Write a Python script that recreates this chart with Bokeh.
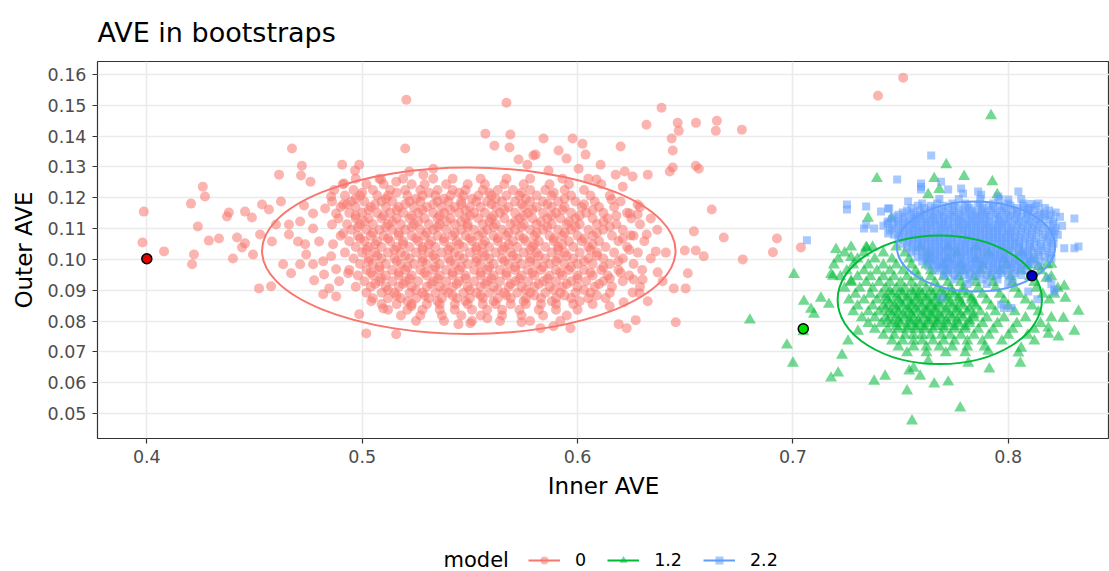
from bokeh.plotting import figure
from bokeh.layouts import column
from bokeh.models import Range1d, Legend, LegendItem, NumeralTickFormatter, Label
from bokeh.embed import file_html
from bokeh.resources import INLINE

FONT = "DejaVu Sans"

# ---------------- data ----------------
title_text = "AVE in bootstraps"
x_label = "Inner AVE"
y_label = "Outer AVE"
legend_title = "model"
models = ["0", "1.2", "2.2"]
colors = ["#F8766D", "#00BA38", "#619CFF"]
markers = ["circle", "triangle", "square"]
x_ticks = [0.4, 0.5, 0.6, 0.7, 0.8]
y_ticks = [0.05, 0.06, 0.07, 0.08, 0.09, 0.10, 0.11, 0.12, 0.13, 0.14, 0.15, 0.16]

# bootstrap points, model 0 (scattered points as (x, y))
red_extra = [
    (0.5205, 0.1518), (0.5200, 0.1360), (0.4674, 0.1360), (0.4720, 0.1304), (0.4614, 0.1275),
    (0.4716, 0.1272), (0.4760, 0.1252), (0.4907, 0.1307), (0.4986, 0.1307), (0.4967, 0.1288),
    (0.4260, 0.1236), (0.4270, 0.1204), (0.4205, 0.1181), (0.3986, 0.1155), (0.3980, 0.1055),
    (0.4080, 0.1026), (0.4237, 0.1107), (0.4219, 0.1016), (0.4210, 0.0984), (0.4288, 0.1061),
    (0.4335, 0.1068), (0.4381, 0.1152), (0.4372, 0.1139), (0.4456, 0.1155), (0.4488, 0.1136),
    (0.4535, 0.1178), (0.4419, 0.1071), (0.4456, 0.1052), (0.4442, 0.1039), (0.4493, 0.1016),
    (0.4400, 0.1003), (0.4521, 0.0906), (0.4577, 0.0913), (0.4567, 0.1162), (0.4623, 0.1188),
    (0.4600, 0.1113), (0.4526, 0.1081), (0.4660, 0.1113), (0.4581, 0.1058), (0.4633, 0.0984),
    (0.4670, 0.0955), (0.4712, 0.0984), (0.4730, 0.1175), (0.4772, 0.1149), (0.4712, 0.1123),
    (0.4772, 0.1100), (0.4660, 0.1081), (0.4702, 0.1058), (0.4735, 0.1049), (0.4800, 0.1058),
    (0.4740, 0.1016), (0.4772, 0.0984), (0.4819, 0.0994), (0.4777, 0.0932), (0.4823, 0.0951),
    (0.4847, 0.0906), (0.4879, 0.0880), (0.4819, 0.0887), (0.4856, 0.1204), (0.4916, 0.1246),
    (0.4828, 0.1165), (0.4879, 0.1149), (0.4912, 0.1178), (0.4860, 0.1113), (0.4912, 0.1084),
    (0.4865, 0.1049), (0.4856, 0.1010), (0.4879, 0.0968), (0.4893, 0.0929), (0.4935, 0.0955),
    (0.5042, 0.0864), (0.4986, 0.0822), (0.5019, 0.0760), (0.5158, 0.0757), (0.5098, 0.0841),
    (0.5228, 0.0848), (0.5088, 0.1259), (0.5158, 0.1252), (0.5219, 0.1285), (0.5284, 0.1275),
    (0.5330, 0.1294), (0.5447, 0.0790), (0.5502, 0.0793), (0.5581, 0.0809),
    (0.5670, 0.1508), (0.6390, 0.1492), (0.6320, 0.1437), (0.6465, 0.1443), (0.6470, 0.1417),
    (0.6550, 0.1443), (0.6647, 0.1450), (0.6642, 0.1417), (0.6763, 0.1421), (0.6437, 0.1392),
    (0.6442, 0.1353), (0.6549, 0.1304), (0.6563, 0.1294), (0.6442, 0.1298), (0.6428, 0.1285),
    (0.6326, 0.1275), (0.6200, 0.1366), (0.6107, 0.1307), (0.6177, 0.1275), (0.6219, 0.1285),
    (0.6256, 0.1269), (0.6210, 0.1236), (0.6623, 0.1162), (0.6679, 0.1071), (0.6926, 0.1068),
    (0.6907, 0.1023), (0.6767, 0.1000), (0.6540, 0.1091), (0.6498, 0.1029), (0.6549, 0.1029),
    (0.6586, 0.1010), (0.6512, 0.0955), (0.6447, 0.0906), (0.6502, 0.0906), (0.6456, 0.0796),
    (0.6363, 0.1026), (0.6321, 0.1081), (0.6247, 0.1078), (0.6372, 0.0958), (0.6395, 0.0929),
    (0.6326, 0.0864), (0.6270, 0.0803), (0.6228, 0.0777), (0.6191, 0.0790), (0.6214, 0.0861),
    (0.6288, 0.0890), (0.6256, 0.0893), (0.6260, 0.0935), (0.6302, 0.0935), (0.6149, 0.0848),
    (0.5967, 0.0777), (0.5888, 0.0783), (0.5828, 0.0777), (0.5740, 0.0796), (0.6279, 0.1178),
    (0.6242, 0.1149), (0.6279, 0.1146), (0.6158, 0.1194), (0.6088, 0.1259), (0.6037, 0.1340),
    (0.6023, 0.1375), (0.5977, 0.1392), (0.5949, 0.1327), (0.5912, 0.1353), (0.5842, 0.1392),
    (0.5805, 0.1340), (0.5795, 0.1337), (0.5726, 0.1324), (0.5688, 0.1405), (0.5572, 0.1408),
    (0.5614, 0.1369), (0.5684, 0.1363), (0.5767, 0.1307), (0.5865, 0.1288), (0.6005, 0.1294),
    (0.7512, 0.1589), (0.7395, 0.1531), (0.7037, 0.1039),
]
# dense part of model 0: (y, x values in thousandths)
red_core = [
    (0.1262, [497, 508, 519, 533, 542, 555, 567, 578, 593, 605]),
    (0.1244, [491, 502, 510, 523, 529, 539, 549, 557, 566, 575, 587, 596, 611]),
    (0.1225, [487, 496, 505, 513, 520, 527, 535, 542, 548, 556, 563, 570, 578, 585, 594, 603]),
    (0.1216, [500, 516, 531, 545, 559, 574, 589]),
    (0.1207, [492, 499, 507, 512, 521, 528, 534, 541, 547, 554, 560, 567, 573, 581, 588, 597, 606, 615]),
    (0.1197, [497, 511, 525, 538, 551, 562, 576, 594]),
    (0.1188, [486, 495, 501, 509, 514, 522, 527, 535, 540, 546, 553, 558, 565, 571, 578, 584, 591, 599, 608, 620]),
    (0.1179, [493, 506, 520, 533, 546, 560, 574, 586, 603]),
    (0.1170, [490, 497, 504, 511, 517, 524, 530, 537, 543, 550, 555, 562, 568, 575, 581, 588, 594, 602, 610, 617, 629]),
    (0.1160, [503, 516, 528, 541, 548, 566, 579, 593, 607]),
    (0.1151, [494, 500, 507, 513, 519, 526, 533, 538, 545, 552, 557, 564, 571, 577, 584, 590, 597, 604, 612, 623]),
    (0.1142, [497, 510, 523, 536, 550, 561, 575, 588, 601, 618]),
    (0.1133, [489, 497, 503, 509, 516, 522, 529, 535, 541, 548, 554, 560, 566, 573, 579, 586, 592, 599, 607, 614, 625, 634]),
    (0.1123, [501, 514, 526, 539, 546, 559, 571, 583, 596, 612]),
    (0.1114, [493, 499, 505, 512, 518, 524, 531, 536, 543, 549, 556, 562, 569, 575, 581, 588, 595, 601, 609, 618, 629]),
    (0.1105, [498, 511, 523, 535, 549, 561, 574, 586, 599, 615]),
    (0.1096, [495, 502, 508, 514, 520, 527, 533, 539, 546, 552, 558, 565, 571, 578, 584, 591, 597, 605, 612, 621, 637]),
    (0.1086, [505, 517, 530, 543, 556, 568, 581, 594, 609]),
    (0.1077, [490, 498, 504, 510, 517, 523, 529, 535, 542, 548, 554, 561, 567, 573, 580, 587, 593, 600, 607, 616, 626]),
    (0.1068, [499, 512, 525, 538, 550, 563, 575, 589, 603, 621]),
    (0.1059, [494, 501, 507, 513, 519, 526, 532, 538, 544, 551, 557, 563, 570, 576, 582, 589, 596, 602, 610, 619, 631]),
    (0.1049, [506, 519, 531, 545, 556, 568, 580, 593, 607]),
    (0.1040, [497, 503, 509, 516, 522, 528, 534, 541, 547, 553, 559, 566, 572, 579, 585, 591, 598, 605, 613, 623]),
    (0.1031, [502, 515, 528, 540, 553, 565, 578, 591, 606, 624]),
    (0.1022, [492, 500, 506, 512, 518, 525, 531, 537, 543, 550, 556, 562, 569, 575, 581, 588, 594, 601, 609, 617, 628, 641]),
    (0.1012, [507, 520, 533, 545, 557, 570, 582, 595, 609]),
    (0.1003, [496, 503, 509, 515, 522, 528, 534, 540, 547, 553, 559, 565, 572, 578, 585, 591, 598, 605, 612, 621, 634]),
    (0.0994, [503, 516, 528, 541, 553, 566, 578, 590, 603, 619]),
    (0.0985, [499, 505, 511, 518, 524, 530, 536, 543, 549, 555, 561, 568, 574, 581, 587, 594, 600, 607, 615, 626]),
    (0.0975, [508, 521, 534, 546, 559, 571, 584, 597, 612]),
    (0.0966, [494, 502, 508, 514, 520, 527, 533, 539, 545, 552, 558, 564, 571, 577, 583, 590, 596, 603, 611, 619, 630]),
    (0.0957, [504, 517, 529, 542, 555, 567, 579, 592, 606, 620]),
    (0.0948, [498, 505, 511, 517, 523, 530, 536, 542, 548, 555, 561, 567, 574, 580, 587, 593, 600, 607, 614, 624]),
    (0.0938, [509, 522, 535, 548, 560, 573, 586, 600, 615]),
    (0.0929, [501, 508, 514, 520, 526, 533, 539, 545, 552, 558, 564, 571, 577, 584, 590, 597, 604, 612, 621]),
    (0.0920, [506, 519, 532, 544, 557, 569, 582, 595, 610]),
    (0.0911, [497, 504, 511, 517, 523, 530, 536, 542, 549, 555, 561, 568, 574, 580, 587, 593, 600, 608, 616, 629]),
    (0.0901, [512, 525, 538, 550, 563, 576, 589, 603]),
    (0.0892, [502, 509, 515, 522, 528, 534, 540, 547, 553, 559, 566, 572, 578, 585, 592, 599, 606, 615]),
    (0.0883, [516, 529, 542, 555, 567, 580, 594, 609]),
    (0.0874, [505, 512, 518, 525, 531, 537, 544, 550, 556, 563, 569, 576, 583, 590, 597, 605, 613]),
    (0.0864, [521, 535, 548, 561, 575, 588, 601]),
    (0.0855, [509, 516, 523, 530, 536, 543, 549, 556, 562, 569, 576, 583, 590, 598, 607]),
    (0.0837, [512, 521, 528, 536, 543, 551, 558, 565, 573, 582, 590, 600]),
    (0.0818, [518, 527, 537, 546, 555, 565, 574, 584, 595]),
    (0.0800, [525, 538, 551, 564, 578, 592]),
]

# bootstrap points, model 1.2
green_extra = [
    (0.7920, 0.1466), (0.7712, 0.1307), (0.7390, 0.1262), (0.7656, 0.1262), (0.7795, 0.1269),
    (0.7926, 0.1252), (0.7680, 0.1227), (0.7628, 0.1210), (0.7949, 0.1210), (0.7349, 0.1133),
    (0.7456, 0.1133), (0.7200, 0.1032), (0.7270, 0.1006), (0.7340, 0.1039), (0.7005, 0.0951),
    (0.7177, 0.0951), (0.8140, 0.0977), (0.8260, 0.0913), (0.8214, 0.0887), (0.6800, 0.0803),
    (0.6972, 0.0722), (0.7000, 0.0663), (0.7177, 0.0615), (0.7210, 0.0631), (0.7377, 0.0605),
    (0.7428, 0.0621), (0.7530, 0.0573), (0.7553, 0.0476), (0.7656, 0.0596), (0.7721, 0.0602),
    (0.7777, 0.0518), (0.7591, 0.0621), (0.7540, 0.0638), (0.7912, 0.0644), (0.8056, 0.0663),
    (0.7228, 0.0689), (0.7051, 0.0864), (0.7084, 0.0838), (0.7098, 0.0822), (0.7130, 0.0874),
    (0.7167, 0.0854), (0.7186, 0.0945), (0.7270, 0.0929), (0.7344, 0.1036), (0.8265, 0.0874),
    (0.8326, 0.0832), (0.8307, 0.0767), (0.8256, 0.0809), (0.8233, 0.0748), (0.8186, 0.0777),
    (0.8060, 0.0712), (0.8200, 0.0984), (0.8177, 0.0939), (0.7048, 0.0765), (0.7560, 0.0647),
    (0.7628, 0.0670), (0.7814, 0.0663), (0.7907, 0.0702), (0.8047, 0.0696), (0.7256, 0.0735),
    (0.7302, 0.0767), (0.8121, 0.0735), (0.8186, 0.0757),
]
green_core = [
    (0.1040, [727, 737, 748, 759, 772, 785]),
    (0.1021, [724, 733, 742, 752, 763, 776, 791, 806]),
    (0.1001, [721, 730, 738, 746, 754, 763, 772, 785, 798, 811]),
    (0.0982, [719, 728, 735, 742, 748, 755, 762, 770, 778, 788, 799, 809, 818]),
    (0.0963, [725, 733, 739, 745, 751, 757, 764, 771, 779, 787, 796, 806, 815]),
    (0.0944, [722, 730, 736, 742, 747, 753, 758, 764, 770, 777, 784, 792, 801, 810, 820]),
    (0.0925, [727, 734, 740, 745, 750, 755, 760, 766, 772, 778, 785, 793, 802, 812]),
    (0.0906, [724, 731, 737, 743, 748, 752, 757, 762, 767, 773, 779, 786, 794, 803, 813, 823]),
    (0.0896, [745, 750, 755, 759, 764, 769, 774, 779]),
    (0.0887, [729, 736, 741, 746, 751, 756, 760, 765, 770, 775, 781, 788, 796, 805, 816]),
    (0.0877, [743, 748, 753, 758, 762, 767, 772, 777, 783]),
    (0.0868, [726, 733, 739, 744, 749, 753, 757, 762, 766, 771, 777, 783, 790, 798, 808, 819]),
    (0.0858, [745, 750, 755, 759, 764, 768, 773, 778, 784]),
    (0.0849, [730, 737, 742, 747, 751, 755, 760, 764, 768, 774, 779, 785, 792, 800, 811]),
    (0.0839, [743, 748, 753, 757, 762, 766, 771, 776, 782]),
    (0.0830, [728, 735, 740, 745, 749, 754, 758, 762, 766, 771, 776, 781, 787, 794, 803, 814]),
    (0.0820, [746, 751, 755, 760, 764, 768, 773, 778, 784]),
    (0.0811, [732, 738, 743, 748, 752, 756, 761, 765, 769, 774, 779, 784, 790, 798, 808, 820]),
    (0.0801, [744, 749, 754, 758, 763, 767, 771, 776, 782]),
    (0.0792, [735, 741, 746, 750, 755, 759, 763, 767, 772, 777, 782, 788, 795, 804, 815]),
    (0.0782, [748, 753, 757, 761, 766, 770, 775, 780]),
    (0.0773, [738, 744, 749, 753, 757, 761, 765, 770, 775, 780, 786, 793, 802, 812]),
    (0.0754, [742, 747, 752, 756, 760, 764, 769, 773, 778, 784, 791, 800, 809]),
    (0.0735, [746, 751, 756, 760, 765, 770, 775, 781, 788, 797]),
    (0.0716, [749, 756, 762, 768, 774, 781, 789]),
    (0.0697, [753, 762, 771, 780]),
]

# bootstrap points, model 2.2
blue_extra = [
    (0.7642, 0.1337), (0.7484, 0.1259), (0.7251, 0.1178), (0.7251, 0.1162), (0.7340, 0.1172),
    (0.7065, 0.1062), (0.7447, 0.1165), (0.7595, 0.1236), (0.7595, 0.1246), (0.7595, 0.1227),
    (0.7688, 0.1252), (0.7781, 0.1230), (0.7860, 0.1220), (0.8047, 0.1220), (0.8093, 0.1165),
    (0.8107, 0.1180), (0.8167, 0.1146), (0.8307, 0.1133), (0.8326, 0.1042), (0.8307, 0.1036),
    (0.8260, 0.1036), (0.8214, 0.1091), (0.8200, 0.1003), (0.8200, 0.0919), (0.8214, 0.0896),
    (0.7967, 0.0854), (0.7980, 0.0842), (0.7688, 0.0874), (0.7340, 0.1113), (0.7377, 0.1100),
    (0.7442, 0.1084), (0.7409, 0.1155), (0.7330, 0.1100), (0.7535, 0.1188), (0.7442, 0.1165),
    (0.8186, 0.0939), (0.8214, 0.0903), (0.8093, 0.0896), (0.8014, 0.0842), (0.8135, 0.0871),
    (0.7874, 0.1210), (0.7953, 0.1204), (0.8000, 0.1194), (0.7790, 0.1214), (0.7721, 0.1227),
]
blue_core = [
    (0.1196, [768, 777, 787, 796, 806]),
    (0.1181, [760, 767, 774, 780, 787, 793, 800, 807, 814]),
    (0.1174, [758, 764, 770, 775, 781, 786, 791, 796, 801, 807, 813]),
    (0.1167, [755, 761, 766, 772, 777, 782, 788, 793, 798, 804, 810, 817]),
    (0.1159, [753, 759, 764, 769, 774, 779, 783, 788, 792, 797, 802, 807, 812, 819]),
    (0.1152, [751, 756, 761, 766, 770, 775, 780, 785, 789, 794, 799, 804, 809, 815, 822]),
    (0.1145, [749, 755, 759, 764, 768, 773, 777, 782, 786, 790, 795, 800, 804, 809, 814, 820]),
    (0.1138, [747, 752, 757, 761, 765, 770, 774, 778, 783, 787, 791, 796, 801, 806, 811, 817, 824]),
    (0.1130, [746, 751, 756, 760, 764, 768, 772, 777, 781, 785, 789, 794, 798, 803, 808, 813, 819]),
    (0.1123, [744, 749, 754, 758, 762, 766, 770, 775, 779, 783, 787, 791, 796, 800, 805, 810, 815, 821]),
    (0.1116, [744, 749, 753, 757, 762, 766, 770, 774, 778, 782, 786, 790, 795, 799, 804, 809, 814, 821]),
    (0.1109, [742, 747, 752, 756, 760, 764, 768, 772, 777, 781, 785, 789, 793, 797, 802, 807, 812, 818, 825]),
    (0.1101, [746, 751, 756, 760, 764, 769, 773, 777, 781, 785, 789, 793, 797, 801, 806, 811, 816, 822]),
    (0.1094, [745, 750, 754, 758, 762, 767, 771, 775, 779, 783, 787, 791, 795, 800, 804, 809, 814, 820]),
    (0.1087, [749, 754, 758, 762, 766, 770, 775, 779, 783, 787, 791, 795, 799, 803, 808, 813, 819]),
    (0.1080, [747, 752, 756, 760, 764, 768, 773, 777, 781, 785, 789, 793, 797, 801, 806, 811, 817, 823]),
    (0.1072, [751, 756, 760, 764, 768, 772, 776, 781, 785, 789, 793, 797, 801, 805, 810, 816, 821]),
    (0.1065, [749, 754, 758, 762, 766, 770, 774, 779, 783, 787, 791, 795, 799, 803, 808, 813, 819]),
    (0.1058, [753, 758, 762, 766, 770, 774, 778, 782, 787, 791, 795, 799, 803, 807, 812, 818]),
    (0.1051, [751, 756, 760, 764, 768, 772, 776, 780, 785, 789, 793, 797, 801, 805, 810, 815, 821]),
    (0.1043, [755, 760, 764, 768, 772, 776, 780, 784, 788, 792, 797, 801, 805, 810, 815, 820]),
    (0.1036, [753, 758, 762, 766, 770, 774, 778, 782, 786, 790, 795, 799, 803, 807, 812, 818]),
    (0.1029, [757, 762, 766, 770, 774, 778, 782, 786, 790, 794, 798, 802, 807, 811, 816]),
    (0.1022, [755, 760, 764, 768, 772, 776, 780, 784, 788, 792, 796, 800, 805, 809, 814, 820]),
    (0.1014, [760, 764, 768, 772, 776, 780, 784, 788, 792, 796, 800, 805, 809, 814, 819]),
    (0.1007, [758, 762, 766, 770, 774, 778, 782, 786, 790, 794, 798, 803, 807, 812, 817]),
    (0.1000, [762, 766, 770, 774, 778, 783, 787, 791, 795, 799, 803, 808, 812]),
    (0.0993, [760, 764, 768, 772, 776, 780, 785, 789, 793, 797, 801, 805, 810, 815]),
    (0.0985, [765, 769, 773, 777, 781, 785, 789, 793, 797, 802, 806, 811]),
    (0.0978, [763, 767, 771, 775, 779, 783, 787, 791, 795, 800, 804, 809, 814]),
    (0.0971, [768, 772, 776, 780, 784, 788, 793, 797, 801, 806]),
    (0.0964, [766, 770, 774, 778, 782, 786, 791, 795, 799, 803, 808]),
    (0.0956, [772, 777, 782, 787, 792, 797, 803]),
    (0.0949, [770, 775, 780, 785, 790, 795, 800, 806]),
    (0.0935, [775, 782, 788, 795, 802]),
    (0.0920, [781, 790, 800]),
]

# 95% ellipses (centre, full width, full height)
ell_cx = [0.5495, 0.7682, 0.7850]
ell_cy = [0.1028, 0.0869, 0.1042]
ell_w = [0.1920, 0.0949, 0.0735]
ell_h = [0.0540, 0.0417, 0.0292]

# original-sample estimates
best_x = [0.4000, 0.7048, 0.8110]
best_y = [0.1002, 0.0775, 0.0947]
best_fill = ["#E00000", "#00E000", "#0000C8"]


def collect(extra, core):
    xs = [a for a, b in extra]
    ys = [b for a, b in extra]
    for yv, row in core:
        xs.extend(v / 1000 for v in row)
        ys.extend(yv for _ in row)
    return xs, ys


groups = [collect(red_extra, red_core), collect(green_extra, green_core), collect(blue_extra, blue_core)]
sizes = [10, 12, 8]

# ---------------- main figure ----------------
p = figure(width=1109, height=540,
           x_range=Range1d(0.3771, 0.8470), y_range=Range1d(0.0419, 0.1642),
           output_backend="svg", toolbar_location=None,
           min_border_left=97, min_border_right=0, min_border_top=60, min_border_bottom=102,
           title=title_text)
p.background_fill_color = "white"
p.border_fill_color = "white"
p.outline_line_color = "#333333"
p.outline_line_width = 1.2

p.title.text_font = FONT
p.title.text_font_size = "27px"
p.title.text_font_style = "normal"
p.title.text_color = "black"
p.title.align = "left"
p.title.standoff = 28

for ax in (p.xaxis, p.yaxis):
    ax.axis_line_color = None
    ax.major_tick_line_color = "#333333"
    ax.major_tick_line_width = 1.2
    ax.major_tick_out = 5
    ax.major_tick_in = 0
    ax.minor_tick_line_color = None
    ax.major_label_text_font = FONT
    ax.major_label_text_font_size = "17.5px"
    ax.major_label_text_color = "#4D4D4D"
    ax.axis_label_text_font = FONT
    ax.axis_label_text_font_size = "23px"
    ax.axis_label_text_font_style = "normal"
    ax.axis_label_text_color = "black"

p.xaxis.ticker = x_ticks
p.yaxis.ticker = y_ticks
p.xaxis.formatter = NumeralTickFormatter(format="0.0")
p.yaxis.formatter = NumeralTickFormatter(format="0.00")
p.xaxis.axis_label = x_label
p.yaxis.axis_label = y_label
p.xaxis.major_label_standoff = 6
p.yaxis.major_label_standoff = 6
p.xaxis.axis_label_standoff = 7
p.yaxis.axis_label_standoff = 8

for g in (p.xgrid, p.ygrid):
    g.grid_line_color = "#EBEBEB"
    g.grid_line_width = 1.6

for (xs, ys), c, m, s in zip(groups, colors, markers, sizes):
    p.scatter(xs, ys, marker=m, size=s, fill_color=c, fill_alpha=0.55, line_color=None)

p.ellipse(x=ell_cx, y=ell_cy, width=ell_w, height=ell_h, fill_color=None,
          line_color=colors, line_width=2)

p.scatter(best_x, best_y, marker="circle", size=10, fill_color=best_fill,
          line_color="black", line_width=1.5)

# ---------------- legend strip (its frame is aligned with the main frame, x from 97) ----------------
lg = figure(width=1109, height=31, x_range=Range1d(0, 1), y_range=Range1d(0, 1),
            output_backend="svg", toolbar_location=None, min_border=0,
            min_border_left=97, x_axis_location=None, y_axis_location=None)
lg.outline_line_color = None
lg.grid.visible = False
lg.background_fill_color = "white"
lg.border_fill_color = "white"

items = []
for m, c, mk, s in zip(models, colors, markers, sizes):
    # proxies placed outside the visible range, only used to draw the legend keys
    lr = lg.line([-5, -4], [-5, -5], line_color=c, line_width=2)
    sr = lg.scatter([-5], [-5], marker=mk, size=s, fill_color=c, fill_alpha=0.55, line_color=None)
    items.append(LegendItem(label=m, renderers=[lr, sr]))

legend = Legend(items=items, orientation="horizontal", location=(431, 1),
                glyph_width=32, glyph_height=20, label_standoff=15, label_width=0,
                spacing=21, padding=0, margin=0,
                label_text_font=FONT, label_text_font_size="17.5px", label_text_color="black",
                background_fill_alpha=0, border_line_color=None)
lg.add_layout(legend)
lg.add_layout(Label(x=346, y=12, x_units="screen", y_units="screen", text=legend_title,
                    text_font=FONT, text_font_size="21px", text_baseline="middle",
                    text_color="black"))

layout = column(p, lg, spacing=0)
open("out.html", "w").write(file_html(layout, INLINE))
